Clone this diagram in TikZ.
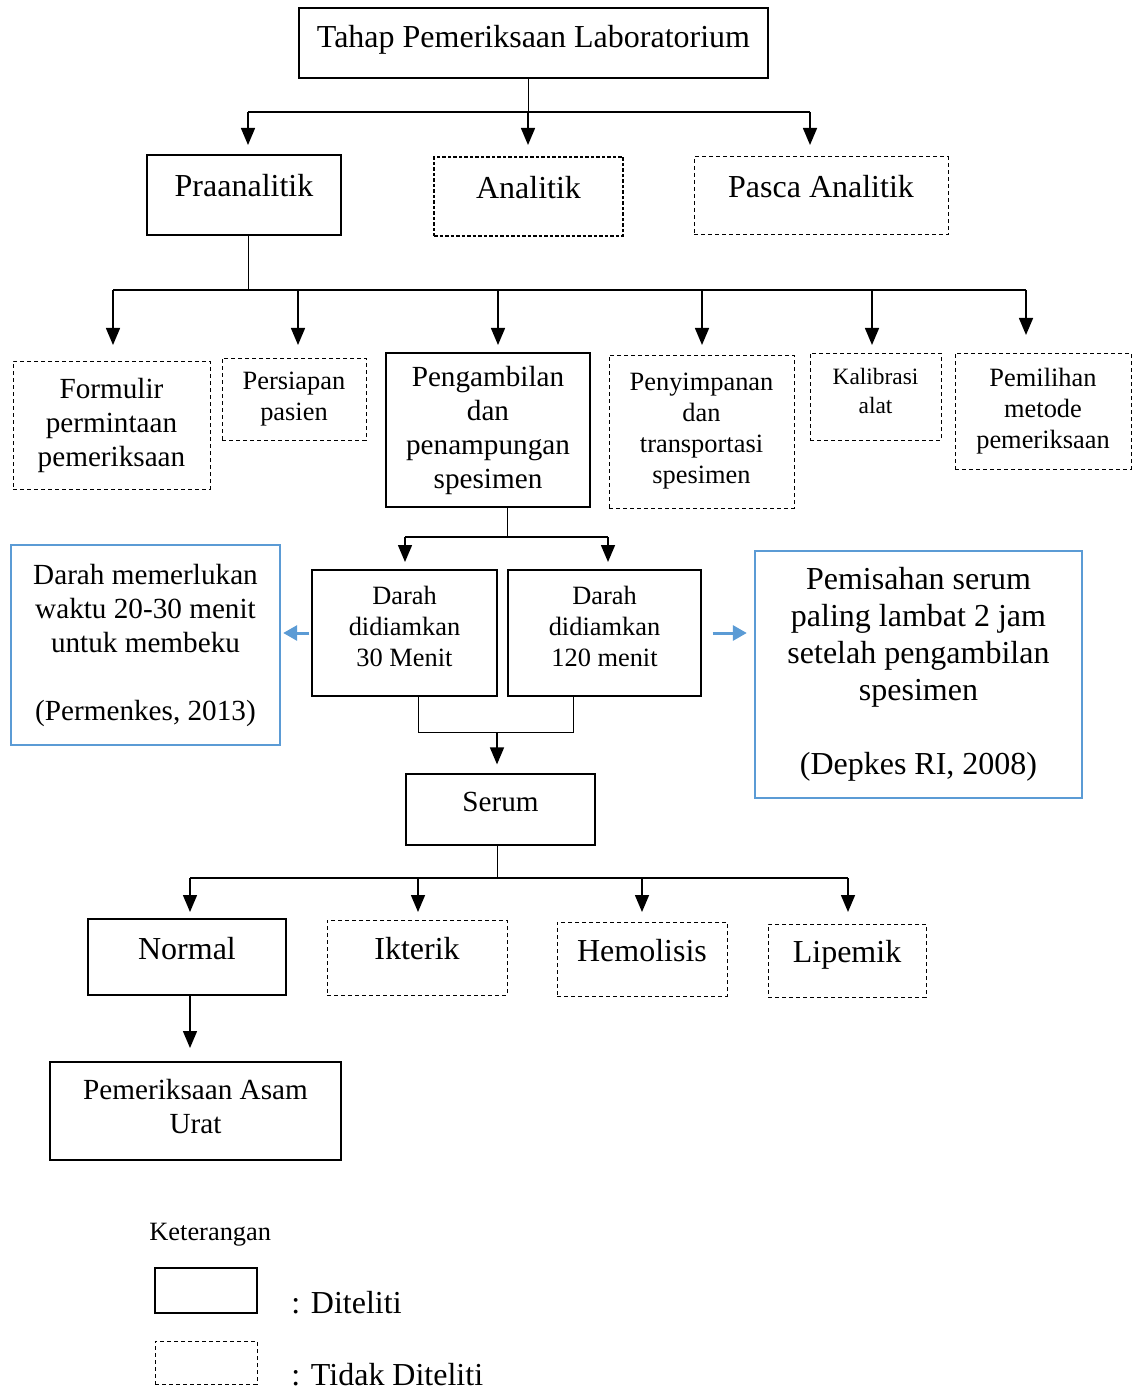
\documentclass[tikz,border=0pt]{standalone}
\usepackage{fontspec}
\setmainfont{Liberation Serif}
\usepackage{tikz}
\usetikzlibrary{arrows.meta}
\definecolor{noteblue}{RGB}{91, 155, 213}

\begin{document}
\begin{tikzpicture}[
    x=0.5pt, y=-0.5pt,
    solidbox/.style={draw, line width=0.6pt, inner sep=0pt, align=center},
    dashbox/.style={draw, line width=0.5pt, dash pattern=on 2pt off 1.5pt,
                    inner sep=0pt, align=center},
    notebox/.style={draw=noteblue, line width=1.2pt, inner sep=0pt, align=center},
    upper/.style={text height=11pt, text depth=9pt},
    fbig/.style={font=\fontsize{16}{18.5}\selectfont},
    fmid/.style={font=\fontsize{14.6}{17}\selectfont},
    fsmall/.style={font=\fontsize{13.2}{15.5}\selectfont},
    ftiny/.style={font=\fontsize{11.7}{14.5}\selectfont},
    stub/.style={line width=0.5pt},
    bus/.style={line width=0.75pt},
    arr/.style={line width=0.75pt, -{Triangle[length=8.5pt, width=7pt]}},
    notearr/.style={draw=noteblue, line width=1.5pt, -{Triangle[length=7pt, width=7.5pt]}}
]
    \useasboundingbox (0,0) rectangle (1133,1390);

    \node[solidbox, fbig, text height=11pt, text depth=6pt, minimum width=234.5pt, minimum height=35pt]
        (tahap) at (533.5,43) {Tahap Pemeriksaan Laboratorium};

    \node[solidbox, fbig, upper, minimum width=97pt, minimum height=40pt] (pra) at (244,195) {Praanalitik};
    \node[dashbox, fbig, upper, line width=0.9pt, dash pattern=on 1.75pt off 1pt,
          minimum width=94.5pt, minimum height=39.5pt] (ana) at (528.5,196.5) {Analitik};
    \node[dashbox, fbig, upper, minimum width=127pt, minimum height=39pt] (pasca) at (821,196) {Pasca Analitik};

    \node[dashbox, fmid, minimum width=98.5pt, minimum height=64pt] (form) at (111.5,425)
        {Formulir\\permintaan\\pemeriksaan};
    \node[dashbox, fsmall, minimum width=72pt, minimum height=41pt] (pers) at (294,399)
        {Persiapan\\pasien};
    \node[solidbox, fmid, minimum width=102pt, minimum height=77pt] (peng) at (488,430)
        {Pengambilan\\dan\\penampungan\\spesimen};
    \node[dashbox, fsmall, minimum width=92.5pt, minimum height=76.5pt] (peny) at (701.5,431.5)
        {Penyimpanan\\dan\\transportasi\\spesimen};
    \node[dashbox, minimum width=65.5pt, minimum height=43.5pt,
          label={[ftiny, align=center, yshift=3pt]center:{Kalibrasi\\alat}}] (kal) at (875.5,396.5) {};
    \node[dashbox, fsmall, minimum width=88pt, minimum height=58pt] (pem) at (1043,411)
        {Pemilihan\\metode\\pemeriksaan};

    \node[solidbox, minimum width=92.5pt, minimum height=63pt,
          label={[fsmall, align=center, yshift=3.5pt]center:{Darah\\didiamkan\\30 Menit}}] (d30) at (404.5,633) {};
    \node[solidbox, minimum width=96.5pt, minimum height=63pt,
          label={[fsmall, align=center, yshift=3.5pt]center:{Darah\\didiamkan\\120 menit}}] (d120) at (604.5,633) {};

    \node[notebox, fmid, minimum width=134.5pt, minimum height=100pt] (notel) at (145.5,645)
        {Darah memerlukan\\waktu 20-30 menit\\untuk membeku\\ \\(Permenkes, 2013)};
    \node[notebox, fbig, minimum width=163.5pt, minimum height=123.5pt] (noter) at (918.5,674.5)
        {Pemisahan serum\\paling lambat 2 jam\\setelah pengambilan\\spesimen\\ \\(Depkes RI, 2008)};

    \node[solidbox, fmid, upper, minimum width=94.5pt, minimum height=35.5pt] (serum) at (500.5,809.5) {Serum};

    \node[solidbox, fbig, upper, minimum width=99pt, minimum height=38pt] (normal) at (187,957) {Normal};
    \node[dashbox, fbig, upper, minimum width=90pt, minimum height=37.5pt] (ikt) at (417,957.5) {Ikterik};
    \node[dashbox, fbig, upper, minimum width=85pt, minimum height=37pt] (hem) at (642,959) {Hemolisis};
    \node[dashbox, fbig, upper, minimum width=79pt, minimum height=36.5pt] (lip) at (847,960.5) {Lipemik};

    \node[solidbox, minimum width=145.5pt, minimum height=49pt,
          label={[fmid, align=center, yshift=2.5pt]center:{Pemeriksaan Asam\\Urat}}] (asam) at (195.5,1111) {};

    % keterangan
    \node[fsmall, anchor=base west, inner sep=0pt] (ket) at (149,1240) {Keterangan};
    \node[solidbox, minimum width=51pt, minimum height=22.5pt] (legA) at (206,1290.5) {};
    \node[dashbox, minimum width=51pt, minimum height=21.5pt] (legB) at (206,1362.5) {};
    \node[fbig, anchor=base west, inner sep=0pt] (legAtext) at (291,1313) {: Diteliti};
    \node[fbig, anchor=base west, inner sep=0pt] (legBtext) at (291,1385) {: Tidak Diteliti};

    % connectors
    \coordinate (busA) at (528,112);
    \draw[stub] ([xshift=-2.75pt]tahap.south) -- (busA);
    \draw[bus] ([xshift=2pt]pra.north |- busA) -- ([xshift=-5.5pt]pasca.north |- busA);
    \foreach \n/\dx in {pra/2pt, ana/-0.25pt, pasca/-5.5pt}
        \draw[arr] ([xshift=\dx]\n.north |- busA) -- ([xshift=\dx]\n.north |- 0,145);

    \coordinate (busB) at (248,290);
    \draw[stub] ([xshift=2pt]pra.south) -- (busB);
    \draw[bus] ([xshift=0.75pt]form.north |- busB) -- ([xshift=-8.5pt]pem.north |- busB);
    \foreach \n/\dx/\ty in {form/0.75pt/345, pers/2pt/345, peng/5pt/345,
                            peny/0.25pt/345, kal/-1.75pt/345, pem/-8.5pt/335}
        \draw[arr] ([xshift=\dx]\n.north |- busB) -- ([xshift=\dx]\n.north |- 0,\ty);

    \coordinate (busC) at (507,537);
    \draw[stub] ([xshift=9.5pt]peng.south) -- (busC);
    \draw[bus] ([xshift=0.25pt]d30.north |- busC) -- ([xshift=1.75pt]d120.north |- busC);
    \foreach \n/\dx in {d30/0.25pt, d120/1.75pt}
        \draw[arr] ([xshift=\dx]\n.north |- busC) -- ([xshift=\dx]\n.north |- 0,562);

    \draw[notearr] ([xshift=-1pt]d30.west) -- ([xshift=1pt]d30.west -| notel.east);
    \draw[notearr] ([xshift=5.5pt]d120.east) -- ([xshift=-3.5pt]d120.east -| noter.west);

    \coordinate (busD) at (497,732);
    \draw[stub] ([xshift=6.75pt]d30.south) |- ([xshift=-15.75pt]d120.south |- busD)
        -- ([xshift=-15.75pt]d120.south);
    \draw[arr] (busD) -- ([yshift=4.5pt]busD |- serum.north);

    \coordinate (busE) at (497,878);
    \draw[stub] ([xshift=-1.75pt]serum.south) -- (busE);
    \draw[bus] ([xshift=1.5pt]normal.north |- busE) -- ([xshift=0.5pt]lip.north |- busE);
    \foreach \n/\dx in {normal/1.5pt, ikt/0.5pt, hem/0pt, lip/0.5pt}
        \draw[arr] ([xshift=\dx]\n.north |- busE) -- ([xshift=\dx]\n.north |- 0,912);

    \draw[arr] ([xshift=1.5pt]normal.south) -- ([xshift=1.5pt]normal.south |- 0,1048);
\end{tikzpicture}
\end{document}
